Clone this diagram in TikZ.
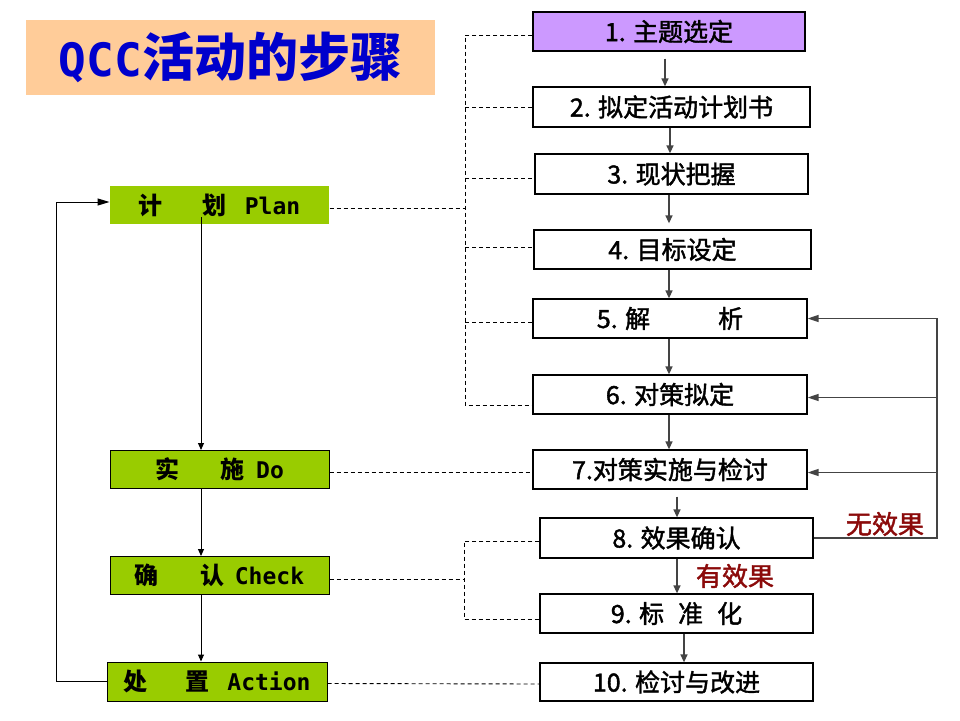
\documentclass[tikz,border=0pt]{standalone}
\usepackage{fontspec}
\setmainfont{Noto Sans CJK SC}
\newfontfamily\stepfont{Noto Sans CJK SC}[FakeBold=1.6]
\newfontfamily\monob{DejaVu Sans Mono}
\usetikzlibrary{arrows.meta,calc}
\definecolor{greenfill}{HTML}{99CC00}
\definecolor{purplefill}{HTML}{CC99FF}
\definecolor{peach}{HTML}{FFCC99}
\definecolor{titleblue}{HTML}{0000CC}
\definecolor{darkred}{HTML}{8B0A0A}
\definecolor{linegray}{HTML}{444444}
\tikzset{
  stepbox/.style={draw=black, line width=1.3pt, fill=white, inner sep=0pt,
    minimum height=39pt, font=\stepfont\fontsize{25}{30}\selectfont},
  phasebox/.style={fill=greenfill, draw=black, line width=1pt, inner sep=0pt,
    minimum width=219pt, minimum height=38pt, font=\fontsize{24}{28}\selectfont\bfseries},
  chainarrow/.style={draw=linegray, line width=1.4pt, -{Triangle[length=8pt,width=7pt]}},
  leftarrow/.style={draw=black, line width=1pt, -{Triangle[length=7pt,width=6pt]}},
  looparrow/.style={draw=black, line width=1pt, -{Triangle[length=12pt,width=7pt]}},
  fbarrow/.style={draw=linegray, line width=1.4pt, -{Triangle[length=11pt,width=7pt]}},
  dashlink/.style={draw=black, line width=0.9pt, dash pattern=on 4pt off 3pt},
  redlabel/.style={text=darkred, inner sep=0pt, font=\stepfont\fontsize{26}{30}\selectfont}
}
\begin{document}
\begin{tikzpicture}[x=1pt,y=-1pt]
\useasboundingbox (0,0) rectangle (960,720);
\fill[white] (0,0) rectangle (960,720);

% title
\node[fill=peach, minimum width=409pt, minimum height=75pt, inner sep=0pt, text=titleblue]
  (title) at (230.5,57.5) {{\monob\bfseries\fontsize{46}{50}\selectfont QCC}{\bfseries\fontsize{52}{56}\selectfont 活动的步骤}};

% right steps
\node[stepbox, fill=purplefill, minimum width=272pt] (b1) at (669,31.5) {1. 主题选定};
\node[stepbox, minimum width=277pt, minimum height=40pt] (b2) at (671.5,107) {2. 拟定活动计划书};
\node[stepbox, minimum width=273pt, minimum height=40pt] (b3) at (671.5,174) {3. 现状把握};
\node[stepbox, minimum width=277pt] (b4) at (672.5,249.5) {4. 目标设定};
\node[stepbox, minimum width=274pt] (b5) at (670,318.5) {5. 解\hspace{68pt}析};
\node[stepbox, minimum width=274pt] (b6) at (670,394.5) {6. 对策拟定};
\node[stepbox, minimum width=274pt] (b7) at (670,469.5) {7.对策实施与检讨};
\node[stepbox, minimum width=273pt, minimum height=40pt] (b8) at (676.5,538) {8. 效果确认};
\node[stepbox, minimum width=273pt] (b9) at (676.5,613.5) {9. 标\hspace{14pt}准\hspace{14pt}化};
\node[stepbox, minimum width=273pt, minimum height=38pt] (b10) at (676.5,682) {10. 检讨与改进};

% left phases
\node[phasebox, draw=none] (plan) at (219.5,205) {计\hspace{40pt}划\hspace{18pt}{\monob\fontsize{23}{26}\selectfont Plan}};
\node[phasebox] (do) at (219.5,469.5) {实\hspace{41pt}施\hspace{12pt}{\monob\fontsize{23}{26}\selectfont Do}};
\node[phasebox] (check) at (219.5,575.5) {确\hspace{42pt}认\hspace{10pt}{\monob\fontsize{23}{26}\selectfont Check}};
\node[phasebox, minimum width=220pt, minimum height=39pt] (action) at (217,681.5) {处\hspace{38pt}置\hspace{18pt}{\monob\fontsize{23}{26}\selectfont Action}};

% labels
\node[redlabel] (nofx) at (885,524) {无效果};
\node[redlabel] (yesfx) at (735,576) {有效果};

% right chain arrows
\draw[chainarrow, shorten <=7pt] ([xshift=-4pt]b1.south) -- ([xshift=-4pt]b1.south |- b2.north);
\draw[chainarrow] ([xshift=-1.5pt]b2.south) -- ([xshift=-1.5pt]b2.south |- b3.north);
\draw[chainarrow] ([xshift=-2.5pt]b3.south) -- ([xshift=-2.5pt,yshift=6pt]b3.south |- b4.north);
\draw[chainarrow] ([xshift=-3.5pt]b4.south) -- ([xshift=-3.5pt]b4.south |- b5.north);
\draw[chainarrow] ([xshift=-1pt]b5.south) -- ([xshift=-1pt]b5.south |- b6.north);
\draw[chainarrow] ([xshift=-1pt]b6.south) -- ([xshift=-1pt]b6.south |- b7.north);
\draw[chainarrow, shorten <=7pt] ([xshift=7pt]b7.south) -- ([xshift=7pt]b7.south |- b8.north);
\draw[chainarrow] ([xshift=0.5pt]b8.south) -- ([xshift=0.5pt]b8.south |- b9.north);
\draw[chainarrow] ([xshift=7.5pt]b9.south) -- ([xshift=7.5pt]b9.south |- b10.north);

% feedback
\coordinate (fbx) at (937,0);
\draw[fbarrow] (b8.east) -- (b8.east -| fbx) -- (fbx |- b5.east) -- (b5.east);
\draw[fbarrow] ([yshift=-3pt]fbx |- b6.east) -- ([yshift=-3pt]b6.east);
\draw[fbarrow] ([yshift=-3pt]fbx |- b7.east) -- ([yshift=-3pt]b7.east);

% left chain
\coordinate (spine) at (201,0);
\draw[leftarrow] ([yshift=-12pt]spine |- plan.center) -- (spine |- do.north);
\draw[leftarrow] (spine |- do.south) -- (spine |- check.north);
\draw[leftarrow] (spine |- check.south) -- (spine |- action.north);
\draw[looparrow] (action.west) -- ++(-50,0) |- ([yshift=3pt]plan.west);

% dashed links
\coordinate (brk) at (465,0);
\coordinate (b6d) at (533,405);
\draw[dashlink] ([yshift=-3pt]plan.east) -- ([yshift=-3pt]plan.east -| brk);
\draw[dashlink] ([yshift=-3.5pt]b1.west) -| (brk |- b6d) -- (b6d);
\draw[dashlink] (brk |- b2.west) -- (b2.west);
\draw[dashlink] ([yshift=-4pt]brk |- b3.west) -- ([yshift=-4pt]b3.west);
\draw[dashlink] ([yshift=2.5pt]brk |- b4.west) -- ([yshift=2.5pt]b4.west);
\draw[dashlink] ([yshift=-3.5pt]brk |- b5.west) -- ([yshift=-3.5pt]b5.west);
\draw[dashlink] ([yshift=-3pt]do.east) -- ([yshift=-3pt]b7.west);
\coordinate (brk2) at (464,0);
\draw[dashlink] ([yshift=-4pt]check.east) -- ([yshift=-4pt]check.east -| brk2);
\draw[dashlink] ([yshift=-3pt]b8.west) -| ([yshift=-5.5pt]brk2 |- b9.west) -- ([yshift=-5.5pt]b9.west);
\draw[dashlink] ([yshift=-2pt]action.east) -- ([yshift=-2pt]b10.west);
\end{tikzpicture}
\end{document}
